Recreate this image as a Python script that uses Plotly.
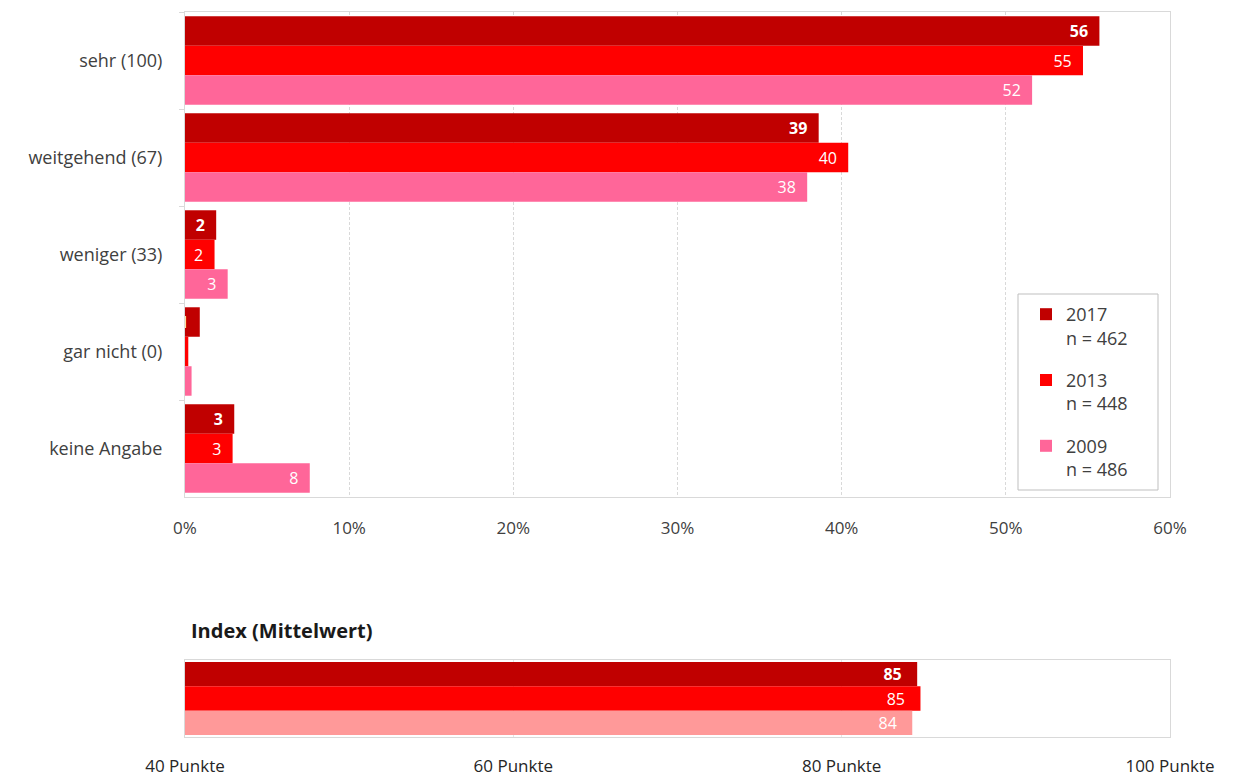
import plotly.graph_objects as go

# Answer categories (top chart) and survey waves
categories = ["sehr (100)", "weitgehend (67)", "weniger (33)", "gar nicht (0)", "keine Angabe"]
years = ["2017", "2013", "2009"]
sample_sizes = [462, 448, 486]

# Share of respondents per category, in percent
share_2017 = [55.7, 38.6, 1.9, 0.9, 3.0]
share_2013 = [54.7, 40.4, 1.8, 0.2, 2.9]
share_2009 = [51.6, 37.9, 2.6, 0.4, 7.6]

# Index (mean value, points)
index_2017 = 84.6
index_2013 = 84.8
index_2009 = 84.3

x_ticks_pct = [0, 10, 20, 30, 40, 50, 60]
x_ticks_index = [40, 60, 80, 100]

FONT = "Open Sans"
TEXT_GRAY = "#404040"
LINE_GRAY = "#d9d9d9"

top_colors = ["#C00000", "#FF0000", "#FF6699"]
index_colors = ["#C00000", "#FF0000", "#FF9999"]
label_weights = ["bold", "normal", "normal"]

W, H = 1234, 778
M_L, M_R, M_T, M_B = 185, 64, 12, 41
plot_h = H - M_T - M_B
plot_w = W - M_L - M_R


def py(p):
    """Pixel row -> paper y fraction."""
    return (H - M_B - p) / plot_h


def px(p):
    """Pixel column -> paper x fraction."""
    return (p - M_L) / plot_w


fig = go.Figure()

shares = [share_2017, share_2013, share_2009]
for year, n, vals, col, wt in zip(years, sample_sizes, shares, top_colors, label_weights):
    fig.add_trace(go.Bar(
        y=categories, x=vals, orientation="h",
        name=f"{year}<br>n = {n}",
        legendgroup=year,
        marker=dict(color=col, line=dict(width=0)),
        texttemplate="%{x:.0f}\u00a0\u00a0",
        textposition="inside", insidetextanchor="end", constraintext="none",
        textfont=dict(color="white", size=16, family=FONT, weight=wt),
        xaxis="x", yaxis="y",
        hovertemplate="%{y}: %{x}%<extra>" + year + "</extra>",
    ))

indices = [index_2017, index_2013, index_2009]
for year, val, col, wt in zip(years, indices, index_colors, label_weights):
    fig.add_trace(go.Bar(
        y=["Index"], x=[val], orientation="h",
        name=year, showlegend=False,
        marker=dict(color=col, line=dict(width=0)),
        texttemplate="%{x:.0f}\u00a0\u00a0\u00a0",
        textposition="inside", insidetextanchor="end", constraintext="none",
        textfont=dict(color="white", size=16, family=FONT, weight=wt),
        xaxis="x2", yaxis="y2",
        hovertemplate="Index: %{x}<extra>" + year + "</extra>",
    ))

fig.update_layout(
    width=W, height=H, autosize=False,
    margin=dict(l=M_L, r=M_R, t=M_T, b=M_B),
    paper_bgcolor="white", plot_bgcolor="white",
    font=dict(family=FONT, size=15, color=TEXT_GRAY),
    barmode="group", bargap=0.088, bargroupgap=0,
    xaxis=dict(
        domain=[0, 1], anchor="y", range=[0, 60], automargin=False,
        tickmode="array", tickvals=x_ticks_pct,
        ticktext=[f"{v}%" for v in x_ticks_pct],
        showgrid=True, gridcolor=LINE_GRAY, griddash="3px,2px", gridwidth=1,
        showline=True, linecolor=LINE_GRAY, mirror=True, zeroline=False,
        ticks="", ticklabelstandoff=16, tickfont=dict(size=17, color=TEXT_GRAY),
    ),
    yaxis=dict(
        domain=[py(497), 1], anchor="x", type="category", automargin=False,
        categoryorder="array", categoryarray=categories,
        range=[4.5, -0.5],
        showline=True, linecolor=LINE_GRAY, mirror=True,
        ticks="outside", tickson="boundaries", ticklen=5, tickcolor=LINE_GRAY,
        ticklabelstandoff=18, showgrid=False,
        tickfont=dict(size=18, color=TEXT_GRAY),
    ),
    xaxis2=dict(
        domain=[0, 1], anchor="y2", range=[40, 100], automargin=False,
        tickmode="array", tickvals=x_ticks_index,
        ticktext=[f"{v} Punkte" for v in x_ticks_index],
        showgrid=True, gridcolor="#e6e6e6", gridwidth=1,
        showline=True, linecolor=LINE_GRAY, mirror=True, zeroline=False,
        ticks="", ticklabelstandoff=14, tickfont=dict(size=17, color="#262626"),
    ),
    yaxis2=dict(
        domain=[0, py(660)], anchor="x2", type="category", automargin=False,
        range=[0.481, -0.481],
        showticklabels=False, showgrid=False,
        showline=True, linecolor=LINE_GRAY, mirror=True, ticks="",
    ),
    legend=dict(
        x=px(1026), xanchor="left", y=py(296), yanchor="top",
        bgcolor="rgba(0,0,0,0)", borderwidth=0,
        traceorder="grouped", tracegroupgap=16, valign="top",
        font=dict(size=18, color=TEXT_GRAY, family=FONT),
    ),
    shapes=[dict(
        type="rect", xref="paper", yref="paper",
        x0=px(1018), x1=px(1158), y0=py(490), y1=py(294),
        line=dict(color="#bfbfbf", width=1), fillcolor="rgba(0,0,0,0)", layer="below",
    )],
    annotations=[dict(
        text="<b>Index (Mittelwert)</b>", xref="paper", yref="paper",
        x=px(189), y=py(630), xanchor="left", yanchor="middle",
        showarrow=False, font=dict(size=20, color="#1a1a1a", family=FONT),
    )],
)

fig.write_html("out.html")
